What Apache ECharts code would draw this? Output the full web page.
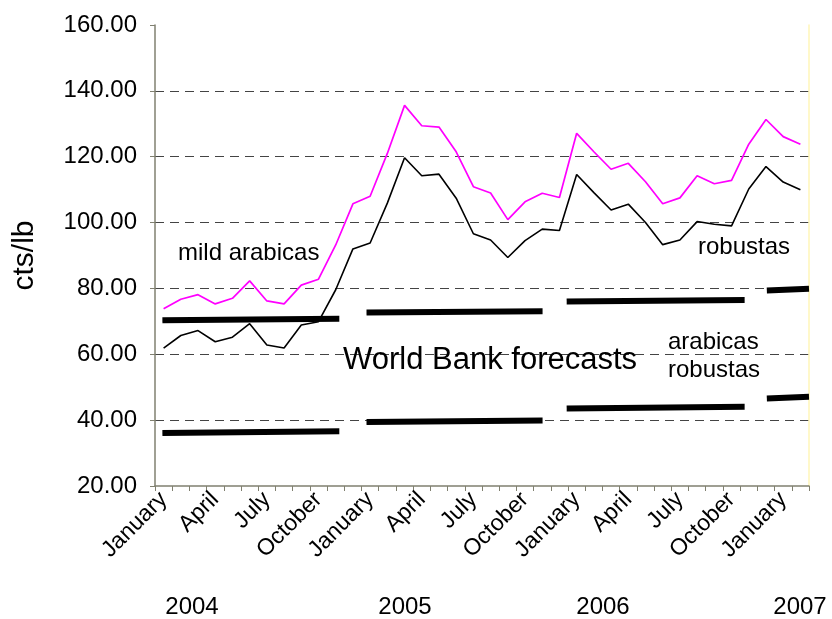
<!DOCTYPE html>
<html>
<head>
<meta charset="utf-8">
<script src="https://cdn.jsdelivr.net/npm/echarts@6/dist/echarts.min.js"></script>
<style>html,body{margin:0;padding:0;background:#fff}#c{width:832px;height:619px}</style>
</head>
<body>
<div id="c"></div>
<script>
// ---- data ----
var monthNames = ['January','February','March','April','May','June','July','August','September','October','November','December'];
var years = [2004, 2005, 2006, 2007];
var monthCount = 38; // Jan 2004 .. Feb 2007
var mildArabicas = [73.8,76.7,78.1,75.3,77.0,82.3,76.2,75.3,81.0,82.8,
  93.2,105.7,108.0,121.0,135.6,129.4,129.0,121.5,110.9,109.0,
  100.9,106.3,108.9,107.6,127.1,121.5,116.2,118.0,112.4,105.7,
  107.5,114.2,111.8,112.8,123.8,131.3,126.1,123.8];
var robustas = [61.9,65.7,67.2,63.8,65.2,69.3,62.8,61.9,68.9,69.9,
  79.6,92.0,93.8,105.9,119.7,114.2,114.7,107.4,96.6,94.7,
  89.4,94.5,98.0,97.6,114.6,109.1,103.8,105.6,100.0,93.3,
  94.7,100.3,99.5,99.0,110.2,117.0,112.3,110.0];
// World Bank forecast segments: [monthPosition, value] (month position on a continuous 0..38 scale)
var wbArabicas = [
  [[0.43,70.3],[10.71,70.8]],
  [[12.29,72.7],[22.52,73.1]],
  [[23.92,76.0],[34.26,76.5]],
  [[35.55,79.4],[38.0,79.9]]
];
var wbRobustas = [
  [[0.43,36.1],[10.71,36.6]],
  [[12.29,39.4],[22.52,39.9]],
  [[23.92,43.5],[34.26,44.1]],
  [[35.55,46.6],[38.0,47.1]]
];
var yTicks = {min: 20, max: 160, interval: 20};

// ---- build ----
var categories = [];
for (var i = 0; i < monthCount; i++) categories.push(monthNames[i % 12]);

var font = 'Liberation Sans, Arial, sans-serif';
var series = [
  {name:'mild arabicas', type:'line', xAxisIndex:0, yAxisIndex:0, data: mildArabicas, symbol:'none',
   lineStyle:{color:'#ff00ff', width:1.7}, z:3},
  {name:'robustas', type:'line', xAxisIndex:0, yAxisIndex:0, data: robustas, symbol:'none',
   lineStyle:{color:'#000000', width:1.6}, z:3}
];
wbArabicas.concat(wbRobustas).forEach(function(seg){
  series.push({type:'line', xAxisIndex:1, yAxisIndex:0, data: seg, symbol:'none',
    lineStyle:{color:'#000', width:6, cap:'butt'}, z:4});
});

function txt(t, x, y, size, align){
  return {type:'text', x:x, y:y, style:{text:t, fill:'#000', font: size+'px '+font,
    textAlign: align || 'left', textVerticalAlign:'middle'}, z:10};
}

var chart = echarts.init(document.getElementById('c'));
chart.setOption({
  animation:false,
  backgroundColor:'#fff',
  grid:{left:155, right:23, top:25, bottom:133},
  xAxis:[{
    type:'category', data: categories, boundaryGap:true,
    axisLine:{lineStyle:{color:'#808070', width:1.5}},
    axisTick:{show:true, interval:0, length:5, lineStyle:{color:'#808070'}},
    axisLabel:{interval:2, rotate:45, margin:10, fontSize:23, fontFamily:font, color:'#000'},
    splitLine:{show:false}
  },{
    type:'value', min:0, max:monthCount, show:false
  }],
  yAxis:[{
    type:'value', min:yTicks.min, max:yTicks.max, interval:yTicks.interval,
    name:'cts/lb', nameLocation:'middle', nameRotate:90, nameGap:115,
    nameTextStyle:{fontSize:30, fontFamily:font, color:'#000'},
    axisLine:{show:true, lineStyle:{color:'#808070', width:1.5}},
    axisTick:{show:true, length:5, lineStyle:{color:'#808070'}},
    axisLabel:{margin:18, fontSize:24, fontFamily:font, color:'#000',
      formatter:function(v){return v.toFixed(2);}},
    splitLine:{show:true, showMinLine:false, showMaxLine:false,
      lineStyle:{color:'#444', type:[9,6], width:1}}
  },{
    type:'value', position:'right', min:yTicks.min, max:yTicks.max,
    axisLine:{show:true, lineStyle:{color:'#fff6b8', width:1.5}},
    axisTick:{show:false}, axisLabel:{show:false}, splitLine:{show:false}
  }],
  series: series,
  graphic: [
    txt('mild arabicas', 178, 253, 24),
    txt('robustas', 698, 247, 24),
    txt('World Bank forecasts', 343, 360, 31),
    txt('arabicas', 668, 342, 24),
    txt('robustas', 668, 370, 24),
    txt(String(years[0]), 192, 607, 24, 'center'),
    txt(String(years[1]), 405, 607, 24, 'center'),
    txt(String(years[2]), 603, 607, 24, 'center'),
    txt(String(years[3]), 800, 607, 24, 'center')
  ]
});
</script>
</body>
</html>
